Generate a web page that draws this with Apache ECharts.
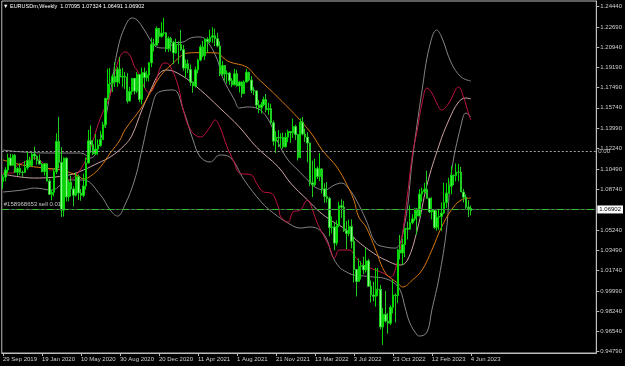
<!DOCTYPE html>
<html>
<head>
<meta charset="utf-8">
<script src="https://cdn.jsdelivr.net/npm/echarts@6/dist/echarts.min.js"></script>
<style>
  html, body { margin: 0; padding: 0; background: #000; }
  #chart { width: 625px; height: 366px; }
</style>
</head>
<body>
<div id="chart"></div>
<script>
// EURUSD weekly, 29 Sep 2019 .. 4 Jun 2023
const xTickLabels = ['29 Sep 2019', '19 Jan 2020', '10 May 2020', '30 Aug 2020', '20 Dec 2020', '11 Apr 2021',
  '1 Aug 2021', '21 Nov 2021', '13 Mar 2022', '3 Jul 2022', '23 Oct 2022', '12 Feb 2023', '4 Jun 2023']
const tickStep = 16
const slotCount = 244

const opens = [
  1.0940, 1.0978, 1.1040, 1.1143, 1.1080, 1.1165, 1.1020, 1.1052, 1.1019, 1.1018, 1.1059, 1.1121, 1.1079, 1.1176,
  1.1159, 1.1120, 1.1091, 1.1025, 1.1093, 1.0944, 1.0830, 1.0847, 1.1026, 1.1284, 1.1105, 1.0694, 1.1141, 1.0808,
  1.0935, 1.0876, 1.0822, 1.0982, 1.0841, 1.0821, 1.0902, 1.1100, 1.1290, 1.1256, 1.1178, 1.1219, 1.1248, 1.1300,
  1.1428, 1.1655, 1.1778, 1.1787, 1.1842, 1.1795, 1.1906, 1.1838, 1.1845, 1.1838, 1.1632, 1.1715, 1.1827, 1.1717,
  1.1860, 1.1646, 1.1876, 1.1833, 1.1857, 1.1962, 1.2121, 1.2112, 1.2256, 1.2186,
  1.2216, 1.2218, 1.2081, 1.2170, 1.2136, 1.2046, 1.2119, 1.2118, 1.2074, 1.1915, 1.1952, 1.1904, 1.1795, 1.1761,
  1.1900, 1.1984, 1.2097, 1.2021, 1.2164, 1.2143, 1.2180, 1.2193, 1.2168, 1.2106, 1.1864, 1.1937, 1.1865, 1.1873,
  1.1806, 1.1771, 1.1867, 1.1762, 1.1795, 1.1697, 1.1796, 1.1879, 1.1812, 1.1725, 1.1719, 1.1597, 1.1574, 1.1601,
  1.1645, 1.1558, 1.1567, 1.1445, 1.1287, 1.1318, 1.1315, 1.1318, 1.1238, 1.1321,
  1.1370, 1.1359, 1.1413, 1.1344, 1.1146, 1.1450, 1.1348, 1.1322, 1.1271, 1.0929, 1.0912, 1.1051, 1.0984, 1.1048,
  1.0877, 1.0812, 1.0795, 1.0545, 1.0550, 1.0411, 1.0562, 1.0732, 1.0719, 1.0518, 1.0494, 1.0554, 1.0426, 1.0184,
  1.0081, 1.0212, 1.0219, 1.0180, 1.0258, 1.0039, 0.9964, 0.9953, 1.0013, 1.0014, 0.9690, 0.9799, 0.9740, 0.9722,
  0.9859, 0.9964, 0.9960, 1.0352, 1.0325, 1.0399, 1.0537, 1.0530, 1.0586, 1.0619,
  1.0705, 1.0643, 1.0832, 1.0855, 1.0871, 1.0796, 1.0679, 1.0694, 1.0546, 1.0634, 1.0640, 1.0669, 1.0760, 1.0840,
  1.0900, 1.0993, 1.0991, 1.1020, 1.1020, 1.0850, 1.0805, 1.0720, 1.07095
]
const highs = [
  1.0999, 1.1063, 1.1179, 1.1179, 1.1175, 1.1176, 1.1064, 1.1097, 1.1034, 1.1117, 1.1200, 1.1153, 1.1188, 1.1239,
  1.1164, 1.1173, 1.1100, 1.1096, 1.1095, 1.0963, 1.0865, 1.1053, 1.1355, 1.1495, 1.1236, 1.1147, 1.1148, 1.0952,
  1.0990, 1.0898, 1.1019, 1.1000, 1.0875, 1.1008, 1.1146, 1.1384, 1.1422, 1.1296, 1.1349, 1.1302, 1.1375, 1.1452,
  1.1660, 1.1909, 1.1916, 1.1866, 1.1966, 1.1926, 1.2011, 1.1917, 1.1883, 1.1872, 1.1754, 1.1830, 1.1831, 1.1881,
  1.1860, 1.1920, 1.1920, 1.1892, 1.1965, 1.2177, 1.2167, 1.2273, 1.2260, 1.2310,
  1.2349, 1.2223, 1.2189, 1.2184, 1.2150, 1.2169, 1.2145, 1.2243, 1.2113, 1.1990, 1.1989, 1.1945, 1.1800, 1.1927,
  1.1995, 1.2117, 1.2150, 1.2172, 1.2181, 1.2245, 1.2266, 1.2254, 1.2218, 1.2145, 1.1975, 1.1940, 1.1895, 1.1880,
  1.1830, 1.1909, 1.1900, 1.1805, 1.1800, 1.1810, 1.1909, 1.1884, 1.1846, 1.1751, 1.1725, 1.1640, 1.1624, 1.1669,
  1.1692, 1.1617, 1.1609, 1.1464, 1.1374, 1.1383, 1.1355, 1.1360, 1.1360, 1.1386,
  1.1372, 1.1482, 1.1428, 1.1350, 1.1483, 1.1495, 1.1395, 1.1363, 1.1274, 1.1121, 1.1137, 1.1070, 1.1185, 1.1054,
  1.0925, 1.0936, 1.0808, 1.0641, 1.0592, 1.0607, 1.0765, 1.0787, 1.0774, 1.0601, 1.0613, 1.0615, 1.0463, 1.0187,
  1.0278, 1.0255, 1.0293, 1.0368, 1.0275, 1.0090, 1.0079, 1.0198, 1.0197, 1.0051, 0.9854, 0.9999, 0.9809, 0.9876,
  1.0094, 0.9976, 1.0363, 1.0481, 1.0448, 1.0545, 1.0595, 1.0736, 1.0658, 1.0714,
  1.0713, 1.0874, 1.0887, 1.0929, 1.1033, 1.0800, 1.0805, 1.0695, 1.0691, 1.0696, 1.0760, 1.0930, 1.0926, 1.0973,
  1.1075, 1.1000, 1.1095, 1.1092, 1.1067, 1.0877, 1.0829, 1.0780, 1.07324
]
const lows = [
  1.0879, 1.0942, 1.1012, 1.1072, 1.1073, 1.1013, 1.0989, 1.0996, 1.0981, 1.1016, 1.1040, 1.1065, 1.1068, 1.1125,
  1.1085, 1.1086, 1.1019, 1.0992, 1.0942, 1.0827, 1.0778, 1.0812, 1.1003, 1.1054, 1.0636, 1.0639, 1.0768, 1.0769,
  1.0812, 1.0727, 1.0812, 1.0782, 1.0775, 1.0805, 1.0870, 1.1096, 1.1186, 1.1168, 1.1168, 1.1170, 1.1240, 1.1300,
  1.1400, 1.1640, 1.1696, 1.1710, 1.1753, 1.1754, 1.1780, 1.1753, 1.1737, 1.1612, 1.1630, 1.1687, 1.1689, 1.1700,
  1.1622, 1.1603, 1.1745, 1.1801, 1.1800, 1.1923, 1.2058, 1.2111, 1.2130, 1.2178,
  1.2193, 1.2055, 1.2054, 1.2059, 1.1952, 1.2039, 1.1952, 1.2063, 1.1893, 1.1836, 1.1873, 1.1762, 1.1704, 1.1747,
  1.1870, 1.1975, 1.2010, 1.1986, 1.2051, 1.2130, 1.2133, 1.2105, 1.2094, 1.1847, 1.1848, 1.1807, 1.1782, 1.1772,
  1.1752, 1.1768, 1.1755, 1.1705, 1.1664, 1.1695, 1.1790, 1.1801, 1.1700, 1.1684, 1.1563, 1.1529, 1.1524, 1.1587,
  1.1535, 1.1513, 1.1432, 1.1249, 1.1186, 1.1236, 1.1227, 1.1222, 1.1234, 1.1279,
  1.1272, 1.1314, 1.1297, 1.1121, 1.1140, 1.1338, 1.1280, 1.1106, 1.0900, 1.0806, 1.0900, 1.0962, 1.0945, 1.0837,
  1.0757, 1.0760, 1.0470, 1.0493, 1.0349, 1.0389, 1.0548, 1.0627, 1.0506, 1.0359, 1.0470, 1.0366, 1.0072, 0.9952,
  1.0077, 1.0097, 1.0142, 1.0157, 1.0033, 0.9900, 0.9910, 0.9864, 0.9956, 0.9669, 0.9536, 0.9727, 0.9632, 0.9705,
  0.9807, 0.9730, 0.9895, 1.0270, 1.0223, 1.0290, 1.0443, 1.0530, 1.0573, 1.0600,
  1.0483, 1.0642, 1.0766, 1.0835, 1.0795, 1.0669, 1.0614, 1.0533, 1.0516, 1.0524, 1.0516, 1.0660, 1.0713, 1.0837,
  1.0831, 1.0910, 1.0942, 1.0942, 1.0850, 1.0760, 1.0702, 1.0635, 1.06491
]
const closes = [
  1.0978, 1.1040, 1.1143, 1.1080, 1.1165, 1.1020, 1.1052, 1.1019, 1.1018, 1.1059, 1.1121, 1.1079, 1.1176, 1.1159,
  1.1120, 1.1091, 1.1025, 1.1093, 1.0944, 1.0830, 1.0847, 1.1026, 1.1284, 1.1105, 1.0694, 1.1141, 1.0808, 1.0935,
  1.0876, 1.0822, 1.0982, 1.0841, 1.0821, 1.0902, 1.1100, 1.1290, 1.1256, 1.1178, 1.1219, 1.1248, 1.1300, 1.1428,
  1.1655, 1.1778, 1.1787, 1.1842, 1.1795, 1.1906, 1.1838, 1.1845, 1.1838, 1.1632, 1.1715, 1.1827, 1.1717, 1.1860,
  1.1646, 1.1876, 1.1833, 1.1857, 1.1962, 1.2121, 1.2112, 1.2256, 1.2186, 1.2216,
  1.2218, 1.2081, 1.2170, 1.2136, 1.2046, 1.2119, 1.2118, 1.2074, 1.1915, 1.1952, 1.1904, 1.1795, 1.1761, 1.1900,
  1.1984, 1.2097, 1.2021, 1.2164, 1.2143, 1.2180, 1.2193, 1.2168, 1.2106, 1.1864, 1.1937, 1.1865, 1.1873, 1.1806,
  1.1771, 1.1867, 1.1762, 1.1795, 1.1697, 1.1796, 1.1879, 1.1812, 1.1725, 1.1719, 1.1597, 1.1574, 1.1601, 1.1645,
  1.1558, 1.1567, 1.1445, 1.1287, 1.1318, 1.1315, 1.1318, 1.1238, 1.1321, 1.1370,
  1.1359, 1.1413, 1.1344, 1.1146, 1.1450, 1.1348, 1.1322, 1.1271, 1.0929, 1.0912, 1.1051, 1.0984, 1.1048, 1.0877,
  1.0812, 1.0795, 1.0545, 1.0550, 1.0411, 1.0562, 1.0732, 1.0719, 1.0518, 1.0494, 1.0554, 1.0426, 1.0184, 1.0081,
  1.0212, 1.0219, 1.0180, 1.0258, 1.0039, 0.9964, 0.9953, 1.0013, 1.0014, 0.9690, 0.9799, 0.9740, 0.9722, 0.9859,
  0.9964, 0.9960, 1.0352, 1.0325, 1.0399, 1.0537, 1.0530, 1.0586, 1.0619, 1.0705,
  1.0643, 1.0832, 1.0855, 1.0871, 1.0796, 1.0679, 1.0694, 1.0546, 1.0634, 1.0640, 1.0669, 1.0760, 1.0840, 1.0900,
  1.0993, 1.0991, 1.1020, 1.1020, 1.0850, 1.0805, 1.0720, 1.0707, 1.06902
]

// indicator lines, [week index, price]
const orangeLine = [[0, 1.1125], [8, 1.1082], [17, 1.1056], [24, 1.1039], [31, 1.0987], [33, 1.0962], [36, 1.0987],
  [40, 1.1065], [44, 1.1185], [48, 1.1297], [50, 1.1383], [57, 1.1581], [64, 1.1830], [69, 1.1942], [76, 1.2045],
  [81, 1.2048], [88, 1.2045], [90, 1.2011], [93, 1.1968], [100, 1.1925], [104, 1.1839], [111, 1.1701], [118, 1.1555],
  [123, 1.1443], [127, 1.1340], [131, 1.1211], [137, 1.1065], [141, 1.0919], [144, 1.0781], [146, 1.0635],
  [149, 1.0549], [153, 1.0351], [157, 1.0153], [162, 1.0067], [164, 1.0033], [168, 1.0093], [172, 1.0179],
  [176, 1.0351], [180, 1.0549], [184, 1.0695], [188, 1.0781], [192, 1.0798]]
const pinkLine = [[0, 1.1004], [13, 1.0970], [27, 1.0996], [33, 1.1039], [39, 1.1099], [44, 1.1151], [50, 1.1254],
  [53, 1.1340], [57, 1.1555], [61, 1.1744], [64, 1.1864], [67, 1.1899], [73, 1.1856], [81, 1.1727], [89, 1.1572],
  [97, 1.1409], [104, 1.1237], [113, 1.1065], [118, 1.0927], [125, 1.0781], [130, 1.0678], [135, 1.0601],
  [141, 1.0523], [145, 1.0437], [152, 1.0325], [157, 1.0265], [163, 1.0222], [166, 1.0265], [170, 1.0523],
  [174, 1.0910], [179, 1.1254], [183, 1.1469], [187, 1.1624], [190, 1.1658], [192, 1.1650]]
const redLine = [[0, 1.1013], [4, 1.1013], [5, 1.1065], [9, 1.1108], [13, 1.1142], [16, 1.1108], [20, 1.1039],
  [23, 1.1065], [25, 1.1039], [27, 1.0953], [30, 1.0996], [34, 1.1125], [37, 1.1297], [40, 1.1487], [44, 1.1684],
  [47, 1.1959], [50, 1.2054], [52, 1.2028], [54, 1.1925], [55, 1.1899], [58, 1.1753], [60, 1.1701], [62, 1.1753],
  [65, 1.1942], [67, 1.1959], [69, 1.1916], [72, 1.1753], [74, 1.1555], [77, 1.1383], [81, 1.1323], [85, 1.1409],
  [87, 1.1469], [89, 1.1409], [92, 1.1237], [95, 1.1099], [97, 1.1013], [102, 1.0996], [104, 1.0927], [107, 1.0850],
  [110, 1.0841], [113, 1.0721], [114, 1.0635], [117, 1.0592], [119, 1.0678], [122, 1.0695], [125, 1.0781],
  [126, 1.0755], [129, 1.0583], [131, 1.0497], [134, 1.0377], [136, 1.0282], [138, 1.0351], [142, 1.0351],
  [145, 1.0282], [148, 1.0222], [153, 1.0179], [156, 1.0153], [159, 1.0119], [162, 1.0265], [164, 1.0497],
  [166, 1.0824], [168, 1.1168], [170, 1.1383], [172, 1.1615], [174, 1.1744], [176, 1.1701], [178, 1.1615],
  [180, 1.1555], [183, 1.1615], [187, 1.1753], [189, 1.1667], [191, 1.1529], [192, 1.1469]]
const upperGray = [[0, 1.1211], [8, 1.1194], [20, 1.1185], [32, 1.1185], [36, 1.1142], [40, 1.1297], [44, 1.1701],
  [47, 1.2071], [50, 1.2269], [53, 1.2346], [55, 1.2329], [58, 1.2243], [61, 1.2140], [63, 1.2097], [66, 1.2088],
  [68, 1.2088], [70, 1.2131], [74, 1.2140], [77, 1.2174], [81, 1.2183], [84, 1.2140], [88, 1.1985], [90, 1.1839],
  [95, 1.1641], [97, 1.1572], [100, 1.1581], [104, 1.1572], [109, 1.1469], [113, 1.1271], [117, 1.1125],
  [121, 1.1039], [125, 1.0953], [128, 1.0893], [132, 1.0867], [136, 1.0910], [139, 1.0927], [142, 1.0876],
  [145, 1.0781], [149, 1.0609], [153, 1.0411], [157, 1.0377], [161, 1.0368], [165, 1.0592], [168, 1.1125],
  [172, 1.1727], [175, 1.2097], [178, 1.2243], [180, 1.2183], [184, 1.1959], [188, 1.1839], [192, 1.1804]]
const lowerGray = [[0, 1.0850], [8, 1.0867], [13, 1.0884], [20, 1.0867], [27, 1.0953], [33, 1.0953], [40, 1.0824],
  [44, 1.0695], [47, 1.0643], [50, 1.0738], [54, 1.0953], [57, 1.1211], [61, 1.1572], [64, 1.1710], [70, 1.1727],
  [74, 1.1555], [78, 1.1297], [81, 1.1151], [85, 1.1108], [89, 1.1168], [93, 1.1151], [99, 1.0953], [106, 1.0764],
  [111, 1.0669], [117, 1.0583], [122, 1.0540], [126, 1.0549], [130, 1.0523], [133, 1.0437], [135, 1.0308],
  [138, 1.0205], [141, 1.0162], [144, 1.0136], [148, 1.0128], [152, 1.0119], [156, 1.0110], [160, 1.0076],
  [163, 1.0007], [165, 0.9861], [167, 0.9723], [170, 0.9620], [171, 0.9612], [174, 0.9646], [176, 0.9835],
  [179, 1.0119], [182, 1.0523], [184, 1.1013], [188, 1.1426], [190, 1.1529], [192, 1.1495]]

const yTickValues = [1.2444, 1.2269, 1.2094, 1.1919, 1.1749, 1.1574, 1.1399, 1.1224, 1.1049, 1.0874,
  1.0524, 1.0349, 1.0174, 0.9999, 0.9824, 0.9654, 0.9479]
const bidPrice = 1.06902
const orderPrice = 1.0702
const levelPrice = 1.1198
const symbolText = '\u25BC EURUSDm,Weekly  1.07095 1.07324 1.06491 1.06902'
const orderText = '#158968653 sell 0.01'

const categories = []
for (let i = 0; i < slotCount; i++) {
  const k = i / tickStep
  categories.push(Number.isInteger(k) && k < xTickLabels.length ? xTickLabels[k] : '')
}
const candles = opens.map((o, i) => [o, closes[i], lows[i], highs[i]])

const FONT = "'Liberation Sans', Arial, sans-serif"
const chart = echarts.init(document.getElementById('chart'))

function lineSeries(data, color) {
  return {
    type: 'line',
    data: data,
    smooth: 0.4,
    symbol: 'none',
    silent: true,
    lineStyle: { color: color, width: 1 },
    z: 3
  }
}

chart.setOption({
  animation: false,
  backgroundColor: '#000000',
  title: {
    text: symbolText,
    left: 3,
    top: 3,
    padding: 0,
    textStyle: { color: '#ffffff', fontSize: 5.5, fontWeight: 'normal', fontFamily: FONT }
  },
  grid: {
    left: 1, top: 1, width: 596, height: 352,
    show: true, borderColor: '#bdbdbd', borderWidth: 1, backgroundColor: '#000000'
  },
  xAxis: {
    type: 'category',
    data: categories,
    boundaryGap: true,
    axisLine: { show: true, lineStyle: { color: '#bdbdbd' } },
    axisTick: {
      show: true, alignWithLabel: true, length: 3,
      interval: (i, v) => v !== '',
      lineStyle: { color: '#bdbdbd' }
    },
    axisLabel: {
      interval: (i, v) => v !== '',
      showMinLabel: true,
      hideOverlap: false,
      align: 'left', margin: 3,
      color: '#d0d0d0', fontSize: 6, fontFamily: FONT
    },
    splitLine: { show: false }
  },
  yAxis: {
    type: 'value',
    position: 'right',
    min: 0.9466,
    max: 1.2492,
    axisLine: { show: true, lineStyle: { color: '#bdbdbd' } },
    axisTick: { show: true, length: 3, customValues: yTickValues, lineStyle: { color: '#bdbdbd' } },
    axisLabel: {
      customValues: yTickValues,
      formatter: v => v.toFixed(5),
      margin: 4,
      color: '#d0d0d0', fontSize: 6, fontFamily: FONT
    },
    splitLine: { show: false }
  },
  series: [
    lineSeries(upperGray, '#858585'),
    lineSeries(lowerGray, '#858585'),
    lineSeries(pinkLine, '#cfa3a3'),
    lineSeries(redLine, '#c01440'),
    lineSeries(orangeLine, '#d8780c'),
    {
      type: 'candlestick',
      data: candles,
      barWidth: '80%',
      silent: true,
      z: 4,
      itemStyle: {
        color: '#3ee83e',
        color0: '#8cff8c',
        borderColor: '#00d800',
        borderColor0: '#20cc20',
        borderWidth: 1
      },
      markLine: {
        silent: true,
        symbol: 'none',
        animation: false,
        data: [
          {
            yAxis: levelPrice,
            lineStyle: { color: '#a0a0a0', type: [2, 2], width: 1 },
            label: { show: true, position: 'end', distance: 2, formatter: '0.00', color: '#c8c8c8', fontSize: 6, fontFamily: FONT }
          },
          {
            yAxis: bidPrice,
            lineStyle: { color: '#4a4a4a', type: 'solid', width: 1 },
            label: {
              show: true, position: 'end', distance: 1, formatter: bidPrice.toFixed(5),
              color: '#000000', backgroundColor: '#ffffff', padding: [1, 2], fontSize: 6, fontFamily: FONT
            }
          },
          {
            yAxis: orderPrice,
            lineStyle: { color: '#2ec02e', type: [7, 3, 2, 3], width: 1 },
            label: {
              show: true, position: 'insideStartTop', distance: 2, formatter: orderText,
              color: '#c8c8c8', fontSize: 6, fontFamily: FONT
            }
          }
        ]
      }
    }
  ]
})
</script>
</body>
</html>
